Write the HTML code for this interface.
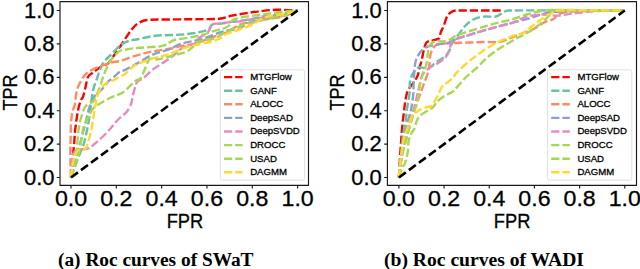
<!DOCTYPE html>
<html><head><meta charset="utf-8"><style>
html,body{margin:0;padding:0;background:#fff;width:640px;height:269px;overflow:hidden}
svg{display:block}
.tk{font-family:"Liberation Sans",sans-serif;font-size:22.3px;fill:#000;stroke:#000;stroke-width:0.3px}
.lb{font-family:"Liberation Sans",sans-serif;font-size:21px;fill:#000;stroke:#000;stroke-width:0.3px}
.lg{font-family:"Liberation Sans",sans-serif;font-size:9.6px;fill:#000;stroke:#000;stroke-width:0.3px}
.cap{font-family:"Liberation Serif",serif;font-size:18px;font-weight:bold;fill:#000}
</style></head><body>
<svg width="640" height="269" viewBox="0 0 640 269">
<path d="M71 177.5 C71.17 175.42 71.58 169.58 72 165 C72.42 160.42 73.13 153.6 73.5 150 C73.76 147.49 73.99 145.91 74.2 143.4 C74.45 140.35 74.58 135.88 75 131.7 C75.42 127.52 76.12 122.25 76.7 118.3 C77.28 114.37 77.78 111.05 78.5 108 C79.22 104.95 80.25 101.87 81 100 C81.53 98.67 82.53 98.15 83 96.8 C83.77 94.6 84.75 90.15 85.6 86.8 C86.45 83.45 86.85 79.08 88.1 76.7 C89.25 74.5 91.15 74.03 93.1 72.5 C95.05 70.97 97.3 69.03 99.8 67.5 C102.3 65.97 105.8 65.22 108.1 63.3 C110.4 61.38 111.6 58.78 113.6 56 C115.6 53.22 117.78 50.03 120.1 46.6 C122.42 43.17 125.48 38.35 127.5 35.4 C129.22 32.88 130.48 30.9 132.2 28.9 C133.92 26.9 135.37 24.88 137.8 23.4 C140.23 21.92 143.16 20.32 146.8 20 C154.67 19.32 172.92 19.51 185 19.3 C197.08 19.09 211.5 19.35 219.3 18.75 C224.17 18.38 227.52 16.59 231.8 15.7 C236.08 14.81 240.65 14.08 245 13.4 C249.35 12.72 252.98 12.18 257.9 11.6 C263.02 11 269.08 9.98 275.7 9.8 C282.32 9.62 293.95 10.38 297.6 10.5" stroke="#ff0000" stroke-width="2.4" fill="none" stroke-dasharray="8.2 3.0"/>
<path d="M71 177.5 C71.75 175.42 73.92 169.25 75.5 165 C77.08 160.75 79.18 155.32 80.5 152 C81.55 149.36 82.57 147.82 83.4 145.1 C84.43 141.72 85.73 136.17 86.7 131.7 C87.67 127.23 88.57 122.25 89.2 118.3 C89.82 114.4 89.96 111.91 90.5 108 C91.15 103.3 92.12 94.75 93.1 90.1 C93.93 86.19 95.28 83.45 96.4 80.1 C97.52 76.75 98.53 73.07 99.8 70 C101.07 66.93 102.02 64.37 104 61.7 C105.98 59.03 108.87 56.83 111.7 54 C114.53 51.17 118.2 46.87 121 44.7 C123.51 42.76 125.7 41.92 128.5 41 C131.3 40.08 134.27 39.89 137.8 39.2 C142.33 38.32 148.81 36.42 155.7 35.7 C163.57 34.88 176.38 35.23 185 34.3 C193.61 33.37 202.8 31.75 207.4 30.1 C210.16 29.11 210.32 25.48 212.6 24.4 C214.88 23.32 218 24.02 221.1 23.6 C224.2 23.18 228.05 22.33 231.2 21.9 C234.35 21.47 236.67 21.49 240 21 C243.85 20.43 249.97 19.33 254.3 18.5 C258.63 17.67 261.72 16.67 266 16 C270.28 15.33 276 15.08 280 14.5 C283.83 13.94 287.07 13.17 290 12.5 C292.91 11.84 296.33 10.83 297.6 10.5" stroke="#66c2a5" stroke-width="2.4" fill="none" stroke-dasharray="8.2 3.0"/>
<path d="M71 177.5 C70.92 175.42 70.62 169.58 70.5 165 C70.38 160.42 70.28 154.17 70.3 150 C70.32 146.2 70.5 143.8 70.6 140 C70.72 135.57 70.68 128.12 71 123.4 C71.3 118.93 71.88 114.77 72.5 111.7 C73.03 109.07 74.22 106.95 74.7 105 C75.16 103.14 75.1 101.89 75.4 100 C75.82 97.38 76.2 92.62 77.2 89.3 C78.2 85.98 79.87 82.75 81.4 80.1 C82.93 77.45 84.45 75.22 86.4 73.4 C88.35 71.58 90.6 70.45 93.1 69.2 C95.6 67.95 98.33 67.02 101.4 65.9 C104.47 64.78 108.4 63.32 111.5 62.5 C114.6 61.68 116.84 61.87 120 61 C123.45 60.05 128.03 58.12 132.2 56.8 C136.37 55.48 140.85 54.13 145 53.1 C149.15 52.07 152.95 51.32 157.1 50.6 C161.25 49.88 165.78 49.6 169.9 48.8 C174.02 48 177.62 46.67 181.8 45.8 C185.98 44.93 190.3 44.9 195 43.6 C199.7 42.3 205 39.77 210 38 C215 36.23 219.85 35.28 225 33 C230.15 30.72 236.02 26.23 240.9 24.3 C245.74 22.38 250.28 22.2 254.3 21.4 C258.32 20.6 260.93 20.2 265 19.5 C269.28 18.77 275.83 17.92 280 17 C283.87 16.15 287.07 15.08 290 14 C292.93 12.92 296.33 11.08 297.6 10.5" stroke="#fc8d62" stroke-width="2.4" fill="none" stroke-dasharray="8.2 3.0"/>
<path d="M71 177.5 C71.58 175.42 73.33 168.75 74.5 165 C75.67 161.25 76.99 158.9 78 155 C79.08 150.83 79.77 145.27 81 140 C82.23 134.73 83.97 128.95 85.4 123.4 C86.83 117.85 87.93 111.43 89.6 106.7 C91.25 102.02 93.43 97.78 95.4 95 C97.11 92.58 99.35 92.15 101.4 90 C103.52 87.78 106.17 83.7 108.1 81.7 C109.72 80.02 111.24 79.53 113 78 C114.88 76.37 117.4 73.23 119.4 71.9 C121.27 70.65 122.97 70.97 125 70 C127.88 68.62 132.26 66.05 136.7 63.6 C141.43 60.98 148.13 56.63 153.4 54.3 C158.67 51.97 163.57 51.38 168.3 49.6 C173.03 47.82 177.35 45.1 181.8 43.6 C186.25 42.1 190.82 41.62 195 40.6 C199.18 39.58 202.55 38.93 206.9 37.5 C211.25 36.07 217.42 33.2 221.1 32 C224.02 31.05 225.99 30.92 229 30.3 C232.15 29.65 236.83 29.32 240 28.1 C243.17 26.88 244.64 24.31 248 23 C251.67 21.57 256.67 20.67 262 19.5 C267.33 18.33 275.33 17 280 16 C283.83 15.18 287.07 14.42 290 13.5 C292.93 12.58 296.33 11 297.6 10.5" stroke="#8da0cb" stroke-width="2.4" fill="none" stroke-dasharray="8.2 3.0"/>
<path d="M71 177.5 C71.08 175.42 71.25 168.75 71.5 165 C71.75 161.25 71.58 157.5 72.5 155 C73.38 152.6 74.64 150.98 77 150 C79.65 148.9 85.38 149.5 88.4 148.4 C91.38 147.31 92.65 145.42 95.1 143.4 C97.6 141.33 100.98 138.32 103.4 136 C105.82 133.68 107.83 131.45 109.6 129.5 C111.34 127.58 112.4 126.13 114 124.3 C115.6 122.47 117.1 120.55 119.2 118.5 C121.3 116.45 124.6 114.48 126.6 112 C128.6 109.52 130.12 106.55 131.2 103.6 C132.28 100.65 132.32 97.4 133.1 94.3 C133.88 91.2 135.17 87.13 135.9 85 C136.38 83.62 136.42 82.49 137.5 81.5 C138.87 80.25 141.79 79.3 144.1 77.5 C146.75 75.43 149.98 71.73 153.4 69.1 C156.82 66.47 161.12 64.1 164.6 61.7 C168.08 59.3 171.18 57.1 174.3 54.7 C177.42 52.3 179.85 49.15 183.3 47.3 C186.75 45.45 192.38 45.15 195 43.6 C197.25 42.27 197.01 39.7 199 38 C201.07 36.23 205.13 35.27 207.4 33 C209.67 30.73 210.32 25.97 212.6 24.4 C214.88 22.83 218 24.02 221.1 23.6 C224.2 23.18 228.05 22.27 231.2 21.9 C234.35 21.53 237.38 21.73 240 21.4 C242.62 21.07 244.52 20.28 246.9 19.9 C249.28 19.52 251.83 19.48 254.3 19.1 C256.77 18.72 258.93 17.98 261.7 17.6 C264.47 17.22 268.07 16.98 270.9 16.8 C273.73 16.62 275.85 16.88 278.7 16.5 C281.55 16.12 284.85 15.5 288 14.5 C291.15 13.5 296 11.17 297.6 10.5" stroke="#e78ac3" stroke-width="2.4" fill="none" stroke-dasharray="8.2 3.0"/>
<path d="M71 177.5 C71.42 175.42 72.58 169.25 73.5 165 C74.42 160.75 75.78 157.02 76.5 152 C77.33 146.17 77.75 135.67 78.5 130 C79.11 125.38 79.92 121.83 81 118 C82.08 114.17 83.5 109.5 85 107 C86.25 104.91 88.65 103.87 90 103 C91.06 102.32 92.34 102.81 93.1 101.8 C94.32 100.2 96.05 96.18 97.3 93.4 C98.55 90.62 99.63 87.88 100.6 85.1 C101.57 82.32 102.12 79.48 103.1 76.7 C104.08 73.92 105.38 70.9 106.5 68.4 C107.62 65.9 108.62 63.6 109.8 61.7 C110.98 59.8 112.07 58.71 113.6 57 C115.17 55.25 117.03 52.47 119.2 51.2 C121.37 49.93 123.75 49.9 126.6 49.4 C129.83 48.83 134.02 48.21 138.6 47.8 C144 47.32 154.37 47.05 159 46.5 C161.89 46.16 163.85 45.58 166.4 44.5 C168.95 43.42 171.25 41.02 174.3 40 C177.35 38.98 181.25 38.98 184.7 38.4 C188.15 37.82 191.8 37.15 195 36.5 C198.2 35.85 201.03 35.35 203.9 34.5 C206.77 33.65 208.98 32.4 212.2 31.4 C215.63 30.33 221.7 29.08 224.5 28.1 C226.36 27.45 227.7 26.8 229 25.5 C230.3 24.2 231 21.45 232.3 20.3 C233.6 19.15 235.05 19.11 236.8 18.6 C238.73 18.03 241.16 17.36 243.9 16.9 C247.07 16.37 252.08 15.9 255.8 15.4 C259.52 14.9 262.83 14.38 266.2 13.9 C269.57 13.42 272.27 12.96 276 12.5 C279.97 12.02 286.4 11.33 290 11 C292.88 10.73 296.33 10.58 297.6 10.5" stroke="#a6d854" stroke-width="2.4" fill="none" stroke-dasharray="8.2 3.0"/>
<path d="M71 177.5 C71.67 175.42 73.67 169.08 75 165 C76.33 160.92 78 156.83 79 153 C80 149.17 80.25 146.18 81 142 C81.83 137.33 82.83 129 84 125 C84.86 122.06 86.67 120.5 88 118 C89.33 115.5 90.52 112.1 92 110 C93.47 107.91 94.78 106.82 96.9 105.4 C99.88 103.4 105.57 100.17 109.9 98 C114.23 95.83 118.73 95.2 122.9 92.4 C127.07 89.6 131.98 83.53 134.9 81.2 C136.73 79.73 138.87 80.1 140.4 78.4 C141.93 76.7 142.85 73.78 144.1 71 C145.35 68.22 146.92 63.72 147.9 61.7 C148.48 60.5 148.71 59.22 150 58.9 C151.68 58.48 154.99 59.67 158 59.2 C162.17 58.55 170.05 56.37 175 55 C179.88 53.65 183.62 53.3 187.7 51 C191.78 48.7 195.32 43.2 199.5 41.2 C203.68 39.2 208.82 40.27 212.8 39 C216.78 37.73 219.31 35.52 223.4 33.6 C228.08 31.4 235.63 27.73 240.9 25.8 C246.11 23.89 250.15 23.22 255 22 C259.85 20.78 265 19.67 270 18.5 C275 17.33 281.33 16 285 15 C287.73 14.26 289.9 13.25 292 12.5 C294.1 11.75 296.67 10.83 297.6 10.5" stroke="#a6d854" stroke-width="2.4" fill="none" stroke-dasharray="8.2 3.0"/>
<path d="M71 177.5 C71.25 175.42 71.83 168.75 72.5 165 C73.17 161.25 74.02 157.5 75 155 C75.84 152.86 76.73 150.95 78.4 150 C80.07 149.05 83.47 150.4 85 149.3 C86.53 148.2 86.82 145.72 87.6 143.4 C88.58 140.47 90 135.6 90.9 131.7 C91.8 127.8 92.32 123.95 93 120 C93.68 116.05 94.25 112 95 108 C95.75 104 96.43 99.33 97.5 96 C98.53 92.78 99.92 90.15 101.4 88 C102.88 85.85 104.47 84.35 106.4 83.1 C108.33 81.85 110.83 81.52 113 80.5 C115.17 79.48 117.4 78.08 119.4 77 C121.4 75.92 123.07 75.45 125 74 C127.58 72.07 130.57 67.86 134.9 65.4 C139.33 62.88 146.35 60.63 151.6 58.9 C156.85 57.17 160.88 56.82 166.4 55 C171.92 53.18 179.93 49.65 184.7 48 C188.54 46.67 191.04 46.04 195 45.1 C199.2 44.1 205.68 43.13 209.9 42 C213.95 40.91 217.68 39.6 220.3 38.3 C222.58 37.17 223.6 35.25 225.6 34.2 C227.6 33.15 229.77 32.89 232.3 32 C234.85 31.1 237.73 29.95 240.9 28.8 C244.07 27.65 247.78 26.78 251.3 25.1 C254.82 23.42 259.1 20.18 262 18.7 C264.42 17.46 266.28 16.78 268.7 16.2 C271.12 15.62 273.9 15.57 276.5 15.2 C279.1 14.83 281.88 14.45 284.3 14 C286.72 13.55 288.78 13.08 291 12.5 C293.22 11.92 296.5 10.83 297.6 10.5" stroke="#ffd92f" stroke-width="2.4" fill="none" stroke-dasharray="8.2 3.0"/>
<path d="M71 177.5 L297.6 10.5" stroke="#000" stroke-width="2.6" fill="none" stroke-dasharray="8.62 3.8"/>
<path d="M59.5 1.6 H309 M59.5 185.4 H309 M60 1.6 V185.4 M308.5 1.6 V185.4" stroke="#1a1a1a" stroke-width="1.15" fill="none"/>
<path d="M56.8 177.5 H60 M71 185.4 V188.4" stroke="#1a1a1a" stroke-width="1.15"/>
<text x="54.5" y="184.6" class="tk" text-anchor="end" textLength="30.5" lengthAdjust="spacingAndGlyphs">0.0</text>
<text x="71" y="205.5" class="tk" text-anchor="middle" textLength="32.2" lengthAdjust="spacingAndGlyphs">0.0</text>
<path d="M56.8 144.1 H60 M116.32 185.4 V188.4" stroke="#1a1a1a" stroke-width="1.15"/>
<text x="54.5" y="151.2" class="tk" text-anchor="end" textLength="30.5" lengthAdjust="spacingAndGlyphs">0.2</text>
<text x="116.32" y="205.5" class="tk" text-anchor="middle" textLength="32.2" lengthAdjust="spacingAndGlyphs">0.2</text>
<path d="M56.8 110.7 H60 M161.64 185.4 V188.4" stroke="#1a1a1a" stroke-width="1.15"/>
<text x="54.5" y="117.8" class="tk" text-anchor="end" textLength="30.5" lengthAdjust="spacingAndGlyphs">0.4</text>
<text x="161.64" y="205.5" class="tk" text-anchor="middle" textLength="32.2" lengthAdjust="spacingAndGlyphs">0.4</text>
<path d="M56.8 77.3 H60 M206.96 185.4 V188.4" stroke="#1a1a1a" stroke-width="1.15"/>
<text x="54.5" y="84.4" class="tk" text-anchor="end" textLength="30.5" lengthAdjust="spacingAndGlyphs">0.6</text>
<text x="206.96" y="205.5" class="tk" text-anchor="middle" textLength="32.2" lengthAdjust="spacingAndGlyphs">0.6</text>
<path d="M56.8 43.9 H60 M252.28 185.4 V188.4" stroke="#1a1a1a" stroke-width="1.15"/>
<text x="54.5" y="51" class="tk" text-anchor="end" textLength="30.5" lengthAdjust="spacingAndGlyphs">0.8</text>
<text x="252.28" y="205.5" class="tk" text-anchor="middle" textLength="32.2" lengthAdjust="spacingAndGlyphs">0.8</text>
<path d="M56.8 10.5 H60 M297.6 185.4 V188.4" stroke="#1a1a1a" stroke-width="1.15"/>
<text x="54.5" y="17.6" class="tk" text-anchor="end" textLength="30.5" lengthAdjust="spacingAndGlyphs">1.0</text>
<text x="297.6" y="205.5" class="tk" text-anchor="middle" textLength="32.2" lengthAdjust="spacingAndGlyphs">1.0</text>
<text x="184.9" y="227.9" class="lb" text-anchor="middle" textLength="36.5" lengthAdjust="spacingAndGlyphs">FPR</text>
<text transform="translate(16.7 92.4) rotate(-90)" x="0" y="0" class="lb" text-anchor="middle" textLength="36" lengthAdjust="spacingAndGlyphs">TPR</text>
<rect x="220.3" y="69.8" width="84.3" height="110.4" rx="2" fill="#fff" fill-opacity="0.8" stroke="#dddddd" stroke-width="0.9"/>
<path d="M224 77.1 H242.6" stroke="#ff0000" stroke-width="2.4" stroke-dasharray="8.2 3.0"/>
<text x="250.2" y="79.9" class="lg">MTGFlow</text>
<path d="M224 90.7 H242.6" stroke="#66c2a5" stroke-width="2.4" stroke-dasharray="8.2 3.0"/>
<text x="250.2" y="93.5" class="lg">GANF</text>
<path d="M224 104.3 H242.6" stroke="#fc8d62" stroke-width="2.4" stroke-dasharray="8.2 3.0"/>
<text x="250.2" y="107.1" class="lg">ALOCC</text>
<path d="M224 117.9 H242.6" stroke="#8da0cb" stroke-width="2.4" stroke-dasharray="8.2 3.0"/>
<text x="250.2" y="120.7" class="lg">DeepSAD</text>
<path d="M224 131.5 H242.6" stroke="#e78ac3" stroke-width="2.4" stroke-dasharray="8.2 3.0"/>
<text x="250.2" y="134.3" class="lg">DeepSVDD</text>
<path d="M224 145.1 H242.6" stroke="#a6d854" stroke-width="2.4" stroke-dasharray="8.2 3.0"/>
<text x="250.2" y="147.9" class="lg">DROCC</text>
<path d="M224 158.7 H242.6" stroke="#a6d854" stroke-width="2.4" stroke-dasharray="8.2 3.0"/>
<text x="250.2" y="161.5" class="lg">USAD</text>
<path d="M224 172.3 H242.6" stroke="#ffd92f" stroke-width="2.4" stroke-dasharray="8.2 3.0"/>
<text x="250.2" y="175.1" class="lg">DAGMM</text>
<path d="M398.9 177.5 C399.08 174.25 399.62 164.25 400 158 C400.38 151.75 400.83 145.17 401.2 140 C401.55 135.06 401.78 131.37 402.2 127 C402.62 122.63 403.2 117.98 403.7 113.8 C404.2 109.62 404.58 105.62 405.2 101.9 C405.82 98.18 406.37 94.27 407.4 91.5 C408.38 88.87 409.86 87.64 411.4 85.3 C413.05 82.78 415.93 79.38 417.3 76.4 C418.67 73.42 418.85 70.13 419.6 67.4 C420.35 64.67 421.12 62.85 421.8 60 C422.53 56.93 423.22 51.92 424 49 C424.69 46.44 425.5 43.83 426.5 42.5 C427.37 41.34 428.62 41.45 430 41 C432.05 40.33 437.02 39.93 438.8 38.5 C440.58 37.07 439.88 34.48 440.7 32.4 C441.52 30.32 442.69 28.49 443.7 26 C444.82 23.23 445.85 18.28 447.4 15.8 C448.87 13.44 450.83 11.98 453 11.1 C455.17 10.22 457.58 10.53 460.4 10.5 C468.57 10.4 495.07 10.5 502 10.5" stroke="#ff0000" stroke-width="2.4" fill="none" stroke-dasharray="8.2 3.0"/>
<path d="M398.9 177.5 C399.25 173.75 400.32 162.08 401 155 C401.68 147.92 402.18 140.88 403 135 C403.81 129.14 405.28 123.73 405.9 119.7 C406.41 116.34 406.32 113.77 406.7 110.8 C407.08 107.83 407.68 105.29 408.2 101.9 C408.73 98.43 409.62 93.27 409.9 90 C410.15 87.08 409.4 85.07 409.9 82.3 C410.4 79.53 411.4 75.92 412.9 73.4 C414.4 70.88 416.38 68.02 418.9 67.2 C421.42 66.38 425.2 69.28 428 68.5 C430.8 67.72 432.87 64.5 435.7 62.5 C438.53 60.5 442.68 58.58 445 56.5 C447.25 54.48 448.43 52.17 449.6 50 C450.77 47.83 450.82 45.63 452 43.5 C453.18 41.37 454.91 39.59 456.7 37.2 C458.88 34.28 462.32 28.95 465.1 26 C467.85 23.09 470.47 21.05 473.4 19.5 C476.33 17.95 479.04 17.19 482.7 16.7 C486.47 16.2 492.62 17.2 496 16.5 C499 15.88 501 13.5 503 12.5 C504.83 11.58 505.95 10.53 508 10.5 C528.3 10.17 605.33 10.5 624.8 10.5" stroke="#66c2a5" stroke-width="2.4" fill="none" stroke-dasharray="8.2 3.0"/>
<path d="M398.9 177.5 C399.42 173.75 400.82 161.25 402 155 C403.1 149.2 404.67 145 406 140 C407.33 135 408.67 129.67 410 125 C411.33 120.33 412.67 116.17 414 112 C415.33 107.83 416.83 103.33 418 100 C419.07 96.94 420.12 94.45 421 92 C421.88 89.55 422.39 87.83 423.3 85.3 C424.38 82.3 426.52 77.22 427.5 74 C428.41 71.03 428.73 69.07 429.2 66 C429.72 62.63 429.73 57.07 430.6 53.8 C431.41 50.74 433.03 48 434.4 46.4 C435.61 44.98 437.45 44.67 438.8 44.2 C440.15 43.73 441.08 43.71 442.5 43.6 C445.2 43.4 450.25 43.18 455 43 C462.02 42.73 477.1 42.2 484.6 42 C490.45 41.84 495.2 42.67 500 41.8 C504.8 40.93 508.32 38.74 513.4 36.8 C518.98 34.67 528.3 31.42 533.5 29 C537.97 26.92 541.25 23.97 544.6 22.3 C547.86 20.68 551.37 20.3 553.6 19 C555.67 17.8 555.83 15.49 558 14.5 C560.73 13.25 565.31 11.78 570 11.5 C581.13 10.83 615.67 10.67 624.8 10.5" stroke="#fc8d62" stroke-width="2.4" fill="none" stroke-dasharray="8.2 3.0"/>
<path d="M398.9 177.5 C399.25 174.58 400.15 166.25 401 160 C401.85 153.75 403 145.83 404 140 C404.98 134.27 405.93 129.62 407 125 C408.07 120.38 409.58 115.65 410.4 112.3 C411.08 109.51 411.46 107.74 411.9 104.9 C412.4 101.68 413.12 96.52 413.4 93 C413.68 89.51 413.39 87.29 413.6 83.8 C413.9 78.87 414.32 68.35 415.2 63.4 C415.87 59.66 417.2 56.73 418.9 54.1 C420.6 51.47 422.77 49.13 425.4 47.6 C428.03 46.07 431.9 45.52 434.7 44.9 C437.5 44.28 439.98 44.22 442.2 43.9 C444.41 43.58 446.23 43.65 448 43 C449.77 42.35 450.79 40.78 452.8 40 C456.12 38.72 462.3 37.02 467.9 35.3 C473.5 33.58 481.05 31.25 486.4 29.7 C491.54 28.21 494.82 27.37 500 26 C507 24.15 521.8 20.45 528.4 18.6 C532.72 17.39 535.88 15.98 539.6 14.9 C543.32 13.82 546.37 12.52 550.7 12.1 C557.43 11.45 568.86 11.24 580 11 C592.35 10.73 617.33 10.58 624.8 10.5" stroke="#8da0cb" stroke-width="2.4" fill="none" stroke-dasharray="8.2 3.0"/>
<path d="M398.9 177.5 C399.25 174.58 399.98 166.25 401 160 C402.02 153.75 403.5 146.67 405 140 C406.5 133.33 408.48 125.37 410 120 C411.33 115.29 412.93 111.8 414.1 107.8 C415.27 103.8 416.08 99.75 417 96 C417.92 92.25 418.67 88.87 419.6 85.3 C420.53 81.73 421 77.47 422.6 74.6 C424.2 71.73 426.72 69.97 429.2 68.1 C431.68 66.23 434.87 65.1 437.5 63.4 C440.13 61.7 442.98 60.07 445 57.9 C447.02 55.73 448.68 52.57 449.6 50.4 C450.43 48.45 450.03 46.6 450.5 44.9 C450.97 43.2 451.62 41.13 452.4 40.2 C453.12 39.34 454.13 39.64 455.2 39.3 C457.78 38.48 463.06 36.79 467.9 35.3 C473.1 33.7 481.05 31.25 486.4 29.7 C491.54 28.21 495.5 27.23 500 26 C504.5 24.77 508.93 23.85 513.4 22.3 C517.87 20.75 521.97 18 526.8 16.7 C531.63 15.4 537.2 14.68 542.4 14.5 C547.6 14.32 552.78 15.78 558 15.6 C563.22 15.42 567.73 14.13 573.7 13.4 C579.67 12.67 586.13 11.64 593.8 11.2 C602.32 10.72 619.63 10.62 624.8 10.5" stroke="#e78ac3" stroke-width="2.4" fill="none" stroke-dasharray="8.2 3.0"/>
<path d="M398.9 177.5 C399.42 173.75 400.82 161.25 402 155 C403.1 149.2 404.67 145 406 140 C407.33 135 408.67 129.67 410 125 C411.33 120.33 412.7 116.17 414 112 C415.3 107.83 417 102.97 417.8 100 C418.38 97.84 418.49 96.41 418.8 94.2 C419.22 91.25 419.55 86.02 420.3 82.3 C421.05 78.58 422.3 74.87 423.3 71.9 C424.27 69.02 425.58 67.45 426.3 64.5 C427.03 61.48 427.1 57.07 427.7 53.8 C428.3 50.53 428.55 47 429.9 44.9 C431.25 42.8 433.57 41.77 435.8 41.2 C438.03 40.63 440.82 41.87 443.3 41.5 C445.78 41.13 448.77 39.88 450.7 39 C452.44 38.2 453.14 36.96 454.9 36.2 C457.77 34.97 462.91 33.21 467.9 31.6 C473.15 29.9 481.05 27.55 486.4 26 C491.54 24.51 495.5 23.47 500 22.3 C504.5 21.13 508.93 20.3 513.4 19 C517.87 17.7 522.33 15.8 526.8 14.5 C531.27 13.2 535.73 11.95 540.2 11.2 C544.67 10.45 548.49 10.04 553.6 10 C567.7 9.88 612.93 10.42 624.8 10.5" stroke="#a6d854" stroke-width="2.4" fill="none" stroke-dasharray="8.2 3.0"/>
<path d="M398.9 177.5 C399.42 175.92 401 170.33 402 168 C402.8 166.13 404.21 165.41 404.9 163.5 C405.85 160.88 407.08 156.05 407.7 152.3 C408.32 148.55 408.05 144.05 408.6 141 C409.1 138.23 410.07 136 411 134 C411.93 132 413.3 131.07 414.2 129 C415.22 126.67 416 122.33 417.1 120 C418.11 117.86 419.15 116.5 420.8 115 C422.45 113.5 425 112.28 427 111 C429 109.72 431.15 108.8 432.8 107.3 C434.45 105.8 435.08 103.78 436.9 102 C438.82 100.12 441.82 97.62 444.3 96 C446.78 94.38 449.57 93.9 451.8 92.3 C454.03 90.7 455.53 88.71 457.7 86.4 C460.1 83.85 462.95 80.15 466.2 77 C469.45 73.85 473.83 70.63 477.2 67.5 C480.57 64.37 482.95 61.2 486.4 58.2 C489.85 55.2 494.43 51.88 497.9 49.5 C501.3 47.16 504.1 45.75 507.2 43.9 C510.3 42.05 513.98 39.8 516.5 38.4 C518.65 37.2 520.14 36.69 522.3 35.5 C525.13 33.93 529.78 31.57 533.5 29 C537.22 26.43 541.25 23.07 544.6 20.1 C547.95 17.13 551.37 12.8 553.6 11.2 C554.98 10.21 556.31 10.52 558 10.5 C569.87 10.38 613.67 10.5 624.8 10.5" stroke="#a6d854" stroke-width="2.4" fill="none" stroke-dasharray="8.2 3.0"/>
<path d="M398.9 177.5 C399.08 175.42 399.48 169.74 400 165 C400.53 160.18 401.43 153.1 402.1 148.6 C402.7 144.55 403.23 141.1 404 138 C404.77 134.9 405.88 132.3 406.7 130 C407.49 127.78 408.04 126.4 408.9 124.2 C409.77 121.98 410.67 118.68 411.9 116.7 C413.13 114.72 415.07 113.4 416.3 112.3 C417.36 111.36 418.09 110.83 419.3 110.1 C420.55 109.35 421.97 108.38 423.8 107.8 C425.75 107.18 429.32 107.25 431 106.4 C432.59 105.59 432.94 104.21 433.9 102.7 C435 100.97 436.48 98.23 437.6 96 C438.72 93.77 439.6 91.15 440.6 89.3 C441.56 87.52 442.48 86.02 443.6 84.9 C444.72 83.78 445.98 83.6 447.3 82.6 C448.78 81.48 450.88 79.93 452.5 78.2 C454.12 76.47 455.02 74.25 457 72.2 C459.57 69.55 464.53 65.17 467.9 62.3 C471.27 59.43 473.8 57.48 477.2 55 C480.6 52.52 484.13 49.87 488.3 47.4 C492.47 44.93 498.02 42.15 502.2 40.2 C506.36 38.26 510.05 36.82 513.4 35.7 C516.71 34.6 519.32 34.98 522.3 33.5 C525.28 32.02 528.32 29.03 531.3 26.8 C534.28 24.57 537.23 22.15 540.2 20.1 C543.17 18.05 546.13 16.1 549.1 14.5 C552.07 12.9 554.3 10.7 558 10.5 C570.62 9.83 613.67 10.5 624.8 10.5" stroke="#ffd92f" stroke-width="2.4" fill="none" stroke-dasharray="8.2 3.0"/>
<path d="M398.9 177.5 L624.8 10.5" stroke="#000" stroke-width="2.6" fill="none" stroke-dasharray="8.62 3.8"/>
<path d="M386.9 1.6 H637 M386.9 185.4 H637 M387.4 1.6 V185.4 M636.5 1.6 V185.4" stroke="#1a1a1a" stroke-width="1.15" fill="none"/>
<path d="M384.2 177.5 H387.4 M398.9 185.4 V188.4" stroke="#1a1a1a" stroke-width="1.15"/>
<text x="381.7" y="184.6" class="tk" text-anchor="end" textLength="30.5" lengthAdjust="spacingAndGlyphs">0.0</text>
<text x="398.9" y="205.5" class="tk" text-anchor="middle" textLength="32.2" lengthAdjust="spacingAndGlyphs">0.0</text>
<path d="M384.2 144.1 H387.4 M444.08 185.4 V188.4" stroke="#1a1a1a" stroke-width="1.15"/>
<text x="381.7" y="151.2" class="tk" text-anchor="end" textLength="30.5" lengthAdjust="spacingAndGlyphs">0.2</text>
<text x="444.08" y="205.5" class="tk" text-anchor="middle" textLength="32.2" lengthAdjust="spacingAndGlyphs">0.2</text>
<path d="M384.2 110.7 H387.4 M489.26 185.4 V188.4" stroke="#1a1a1a" stroke-width="1.15"/>
<text x="381.7" y="117.8" class="tk" text-anchor="end" textLength="30.5" lengthAdjust="spacingAndGlyphs">0.4</text>
<text x="489.26" y="205.5" class="tk" text-anchor="middle" textLength="32.2" lengthAdjust="spacingAndGlyphs">0.4</text>
<path d="M384.2 77.3 H387.4 M534.44 185.4 V188.4" stroke="#1a1a1a" stroke-width="1.15"/>
<text x="381.7" y="84.4" class="tk" text-anchor="end" textLength="30.5" lengthAdjust="spacingAndGlyphs">0.6</text>
<text x="534.44" y="205.5" class="tk" text-anchor="middle" textLength="32.2" lengthAdjust="spacingAndGlyphs">0.6</text>
<path d="M384.2 43.9 H387.4 M579.62 185.4 V188.4" stroke="#1a1a1a" stroke-width="1.15"/>
<text x="381.7" y="51" class="tk" text-anchor="end" textLength="30.5" lengthAdjust="spacingAndGlyphs">0.8</text>
<text x="579.62" y="205.5" class="tk" text-anchor="middle" textLength="32.2" lengthAdjust="spacingAndGlyphs">0.8</text>
<path d="M384.2 10.5 H387.4 M624.8 185.4 V188.4" stroke="#1a1a1a" stroke-width="1.15"/>
<text x="381.7" y="17.6" class="tk" text-anchor="end" textLength="30.5" lengthAdjust="spacingAndGlyphs">1.0</text>
<text x="624.8" y="205.5" class="tk" text-anchor="middle" textLength="32.2" lengthAdjust="spacingAndGlyphs">1.0</text>
<text x="512.1" y="227.9" class="lb" text-anchor="middle" textLength="36.5" lengthAdjust="spacingAndGlyphs">FPR</text>
<text transform="translate(343.9 92.4) rotate(-90)" x="0" y="0" class="lb" text-anchor="middle" textLength="36" lengthAdjust="spacingAndGlyphs">TPR</text>
<rect x="547.5" y="69.8" width="84.3" height="110.4" rx="2" fill="#fff" fill-opacity="0.8" stroke="#dddddd" stroke-width="0.9"/>
<path d="M551.2 77.1 H569.8" stroke="#ff0000" stroke-width="2.4" stroke-dasharray="8.2 3.0"/>
<text x="577.4" y="79.9" class="lg">MTGFlow</text>
<path d="M551.2 90.7 H569.8" stroke="#66c2a5" stroke-width="2.4" stroke-dasharray="8.2 3.0"/>
<text x="577.4" y="93.5" class="lg">GANF</text>
<path d="M551.2 104.3 H569.8" stroke="#fc8d62" stroke-width="2.4" stroke-dasharray="8.2 3.0"/>
<text x="577.4" y="107.1" class="lg">ALOCC</text>
<path d="M551.2 117.9 H569.8" stroke="#8da0cb" stroke-width="2.4" stroke-dasharray="8.2 3.0"/>
<text x="577.4" y="120.7" class="lg">DeepSAD</text>
<path d="M551.2 131.5 H569.8" stroke="#e78ac3" stroke-width="2.4" stroke-dasharray="8.2 3.0"/>
<text x="577.4" y="134.3" class="lg">DeepSVDD</text>
<path d="M551.2 145.1 H569.8" stroke="#a6d854" stroke-width="2.4" stroke-dasharray="8.2 3.0"/>
<text x="577.4" y="147.9" class="lg">DROCC</text>
<path d="M551.2 158.7 H569.8" stroke="#a6d854" stroke-width="2.4" stroke-dasharray="8.2 3.0"/>
<text x="577.4" y="161.5" class="lg">USAD</text>
<path d="M551.2 172.3 H569.8" stroke="#ffd92f" stroke-width="2.4" stroke-dasharray="8.2 3.0"/>
<text x="577.4" y="175.1" class="lg">DAGMM</text>
<text x="58" y="266" class="cap" textLength="195.5" lengthAdjust="spacingAndGlyphs">(a) Roc curves of SWaT</text>
<text x="384" y="266" class="cap" textLength="200" lengthAdjust="spacingAndGlyphs">(b) Roc curves of WADI</text>
</svg>
</body></html>
